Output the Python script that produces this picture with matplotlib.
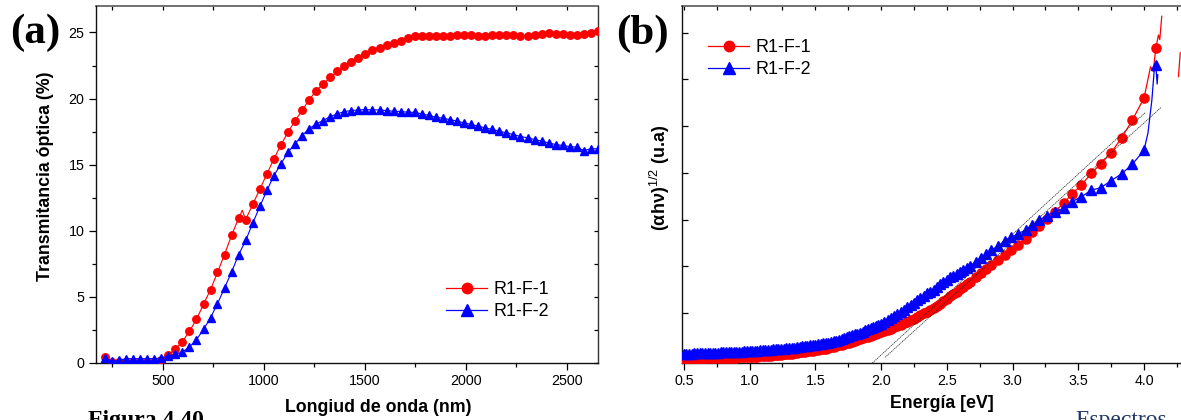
import matplotlib
matplotlib.use("Agg")
import matplotlib.pyplot as plt
from matplotlib.lines import Line2D
from matplotlib.ticker import MultipleLocator, NullFormatter

plt.rcParams['font.family'] = ['Liberation Sans', 'DejaVu Sans']
plt.rcParams['mathtext.fontset'] = 'custom'
plt.rcParams['mathtext.rm'] = 'Liberation Sans'
plt.rcParams['mathtext.bf'] = 'Liberation Sans:bold'

# ---------------- (a) optical transmittance vs wavelength ----------------
wavelength = [212, 247, 282, 317, 352, 387, 421, 456, 491, 526, 561, 596, 631, 666,
              701, 736, 770, 805, 840, 875, 910, 945, 980, 1015, 1050, 1085, 1119,
              1154, 1189, 1224, 1259, 1294, 1329, 1364, 1399, 1434, 1468, 1503, 1538,
              1573, 1608, 1643, 1678, 1713, 1748, 1783, 1817, 1852, 1887, 1922, 1957,
              1992, 2027, 2062, 2097, 2132, 2166, 2201, 2236, 2271, 2306, 2341, 2376,
              2411, 2446, 2481, 2515, 2550, 2585, 2620, 2655]
trans_f1 = [0.42, 0.10, 0.05, 0.05, 0.05, 0.05, 0.05, 0.08, 0.20, 0.60, 1.05, 1.60,
            2.40, 3.30, 4.45, 5.55, 6.85, 8.20, 9.65, 10.95, 10.85, 12.0, 13.15, 14.3,
            15.45, 16.5, 17.45, 18.3, 19.1, 19.9, 20.6, 21.1, 21.6, 22.05, 22.45, 22.8,
            23.1, 23.4, 23.65, 23.85, 24.05, 24.2, 24.38, 24.55, 24.75, 24.74, 24.7,
            24.7, 24.72, 24.74, 24.78, 24.8, 24.78, 24.74, 24.74, 24.8, 24.84, 24.82,
            24.77, 24.72, 24.72, 24.8, 24.87, 24.94, 24.9, 24.88, 24.84, 24.82, 24.86,
            24.95, 25.12]
trans_f2 = [0.38, 0.15, 0.20, 0.33, 0.33, 0.33, 0.33, 0.33, 0.38, 0.50, 0.65, 0.83,
            1.21, 1.76, 2.54, 3.43, 4.48, 5.67, 6.88, 8.19, 9.27, 10.58, 11.84, 13.05,
            14.18, 15.06, 15.94, 16.57, 17.2, 17.71, 18.09, 18.34, 18.64, 18.84, 19.02,
            19.09, 19.14, 19.17, 19.14, 19.14, 19.09, 19.04, 19.02, 18.97, 18.95, 18.84,
            18.72, 18.59, 18.51, 18.41, 18.29, 18.16, 18.04, 17.91, 17.78, 17.66, 17.53,
            17.41, 17.28, 17.13, 17.03, 16.9, 16.78, 16.65, 16.52, 16.45, 16.37, 16.32,
            16.07, 16.2, 16.2]
# short spike in the R1-F-1 trace between two sampled points
spike_wl = [893]
spike_t = [11.55]

# ---------------- (b) (alpha h nu)^1/2 vs photon energy ----------------
energy = [0.50, 0.52, 0.54, 0.56, 0.58, 0.60, 0.62, 0.64, 0.66, 0.68, 0.70, 0.72,
          0.74, 0.76, 0.78, 0.80, 0.82, 0.84, 0.86, 0.88, 0.90, 0.92, 0.94, 0.96,
          0.98, 1.00, 1.02, 1.04, 1.06, 1.08, 1.10, 1.12, 1.14, 1.16, 1.18, 1.20,
          1.22, 1.24, 1.26, 1.28, 1.30, 1.32, 1.34, 1.36, 1.38, 1.40, 1.42, 1.44,
          1.46, 1.48, 1.50, 1.52, 1.54, 1.56, 1.58, 1.60, 1.62, 1.64, 1.66, 1.68,
          1.70, 1.72, 1.74, 1.76, 1.78, 1.80, 1.82, 1.84, 1.86, 1.88, 1.90, 1.92,
          1.94, 1.96, 1.98, 2.00,
          2.025, 2.05, 2.075, 2.10, 2.125, 2.15, 2.175, 2.20, 2.225, 2.25, 2.275,
          2.30, 2.325, 2.35, 2.375, 2.40, 2.425, 2.45, 2.475, 2.50, 2.525, 2.55,
          2.575, 2.60, 2.625, 2.65,
          2.68, 2.72, 2.76, 2.80, 2.84, 2.89, 2.94, 2.99, 3.04, 3.10, 3.15, 3.20,
          3.26, 3.32, 3.39, 3.45, 3.52, 3.60, 3.67, 3.75, 3.83, 3.91, 4.00, 4.09]
ahv_f1 = [0.020, 0.020, 0.020, 0.020, 0.022, 0.023, 0.025, 0.025, 0.027, 0.028,
          0.030, 0.030, 0.032, 0.033, 0.035, 0.037, 0.040, 0.040, 0.042, 0.043,
          0.045, 0.048, 0.050, 0.053, 0.055, 0.058, 0.060, 0.063, 0.065, 0.070,
          0.075, 0.080, 0.085, 0.090, 0.095, 0.100, 0.105, 0.110, 0.115, 0.120,
          0.125, 0.133, 0.140, 0.148, 0.155, 0.163, 0.170, 0.180, 0.190, 0.195,
          0.200, 0.210, 0.220, 0.230, 0.240, 0.252, 0.265, 0.278, 0.292, 0.305,
          0.318, 0.333, 0.350, 0.367, 0.383, 0.400, 0.420, 0.440, 0.460, 0.477,
          0.495, 0.515, 0.535, 0.555, 0.570, 0.590,
          0.615, 0.640, 0.665, 0.690, 0.715, 0.745, 0.780, 0.813, 0.847, 0.880,
          0.913, 0.947, 0.990, 1.025, 1.060, 1.100, 1.150, 1.200, 1.250, 1.305,
          1.360, 1.400, 1.460, 1.510, 1.560, 1.610,
          1.66, 1.76, 1.85, 1.94, 2.03, 2.13, 2.24, 2.35, 2.46, 2.58, 2.73, 2.86,
          3.01, 3.17, 3.35, 3.54, 3.73, 3.99, 4.19, 4.43, 4.75, 5.12, 5.60, 6.67]
ahv_f2 = [0.130, 0.130, 0.130, 0.133, 0.135, 0.137, 0.140, 0.140, 0.140, 0.143,
          0.145, 0.148, 0.150, 0.153, 0.155, 0.158, 0.160, 0.163, 0.165, 0.168,
          0.170, 0.173, 0.175, 0.178, 0.180, 0.185, 0.190, 0.193, 0.195, 0.198,
          0.200, 0.205, 0.210, 0.215, 0.220, 0.225, 0.230, 0.235, 0.240, 0.245,
          0.250, 0.255, 0.260, 0.270, 0.280, 0.285, 0.290, 0.300, 0.310, 0.315,
          0.320, 0.327, 0.340, 0.350, 0.355, 0.367, 0.380, 0.393, 0.410, 0.430,
          0.443, 0.457, 0.480, 0.500, 0.520, 0.540, 0.560, 0.580, 0.600, 0.627,
          0.653, 0.670, 0.697, 0.723, 0.740, 0.773,
          0.810, 0.850, 0.890, 0.930, 0.972, 1.020, 1.070, 1.120, 1.170, 1.220,
          1.270, 1.320, 1.370, 1.420, 1.455, 1.500, 1.550, 1.610, 1.660, 1.710,
          1.760, 1.790, 1.830, 1.880, 1.920, 1.960,
          2.01, 2.10, 2.18, 2.26, 2.35, 2.43, 2.55, 2.62, 2.69, 2.78, 2.88, 2.98,
          3.08, 3.17, 3.24, 3.38, 3.48, 3.63, 3.68, 3.83, 3.98, 4.18, 4.48, 6.31]
# noisy samples near the absorption edge (trace only, no symbols)
edge_e_f1 = [4.05, 4.07, 4.11, 4.12, 4.135]
edge_y_f1 = [6.27, 6.17, 6.95, 6.85, 7.35]
edge_e_f2 = [4.03, 4.06, 4.08, 4.10, 4.105]
edge_y_f2 = [4.85, 5.56, 6.27, 5.90, 6.10]
tail_e_f1 = [4.262, 4.276]
tail_y_f1 = [6.06, 6.57]
# linear extrapolations used for the band gap
fit1_e = [1.934, 4.01]
fit1_y = [-0.07, 5.29]
fit2_e = [2.03, 4.13]
fit2_y = [0.05, 5.40]

series_labels = ['R1-F-1', 'R1-F-2']
RED = '#ff0000'
BLUE = '#0000ff'

W, H = 1181, 420
fig = plt.figure(figsize=(W / 100, H / 100), dpi=100)


def px_box(l, t, r, b):
    return [l / W, 1 - b / H, (r - l) / W, (b - t) / H]


def merged(xs, ys, xe, ye):
    pts = sorted(zip(list(xs) + list(xe), list(ys) + list(ye)))
    return [p[0] for p in pts], [p[1] for p in pts]


ax1 = fig.add_axes(px_box(95.7, 6, 598, 363))
ax2 = fig.add_axes(px_box(681.6, 6, 1200, 363))

# ---- panel (a)
lx, ly = merged(wavelength, trans_f1, spike_wl, spike_t)
ax1.plot(lx, ly, color=RED, lw=0.8, zorder=2)
ax1.plot(wavelength, trans_f1, ls='none', marker='o', ms=5.4, color=RED,
         mec=RED, zorder=3)
ax1.plot(wavelength, trans_f2, color=BLUE, lw=0.8, marker='^', ms=6.0,
         mec=BLUE, zorder=4)
ax1.set_xlim(167, 2655)
ax1.set_ylim(0, 27)

# ---- panel (b)
lx, ly = merged(energy, ahv_f1, edge_e_f1, edge_y_f1)
ax2.plot(lx, ly, color=RED, lw=0.9, zorder=2)
ax2.plot(energy, ahv_f1, ls='none', marker='o', ms=6.6, color=RED, mec=RED, zorder=3)
ax2.plot(tail_e_f1, tail_y_f1, color=RED, lw=0.9, zorder=2)
lx, ly = merged(energy, ahv_f2, edge_e_f2, edge_y_f2)
ax2.plot(lx, ly, color=BLUE, lw=0.9, zorder=4)
ax2.plot(energy, ahv_f2, ls='none', marker='^', ms=6.8, color=BLUE, mec=BLUE, zorder=5)
ax2.plot(fit1_e, fit1_y, color='#222222', lw=0.5, ls=(0, (2, 1)), zorder=6)
ax2.plot(fit2_e, fit2_y, color='#222222', lw=0.5, ls=(0, (2, 1)), zorder=6)
ax2.set_xlim(0.483, 4.426)
ax2.set_ylim(-0.07, 7.57)

# ---- axes styling
TICK_FS = 10.3
for ax in (ax1, ax2):
    for s in ('left', 'bottom'):
        ax.spines[s].set_linewidth(1.0)
        ax.spines[s].set_color('#111111')
    ax.spines['top'].set_visible(False)
    ax.spines['right'].set_visible(False)

# panel (a) ticks
ax1.xaxis.set_major_locator(MultipleLocator(500))
ax1.xaxis.set_minor_locator(MultipleLocator(250))
ax1.yaxis.set_major_locator(MultipleLocator(5))
ax1.yaxis.set_minor_locator(MultipleLocator(2.5))
ax1.tick_params(which='major', direction='out', length=5, width=0.9,
                labelsize=TICK_FS, pad=3, right=False, top=False)
ax1.tick_params(which='minor', direction='out', length=3, width=0.9,
                right=False, top=False)

top1 = ax1.secondary_xaxis('top')
top1.xaxis.set_major_locator(MultipleLocator(500))
top1.xaxis.set_minor_locator(MultipleLocator(250))
top1.tick_params(which='both', direction='in', length=3, width=0.9, labeltop=False)
top1.spines['top'].set_color('#666666')
top1.spines['top'].set_linewidth(1.3)
right1 = ax1.secondary_yaxis('right')
right1.yaxis.set_major_locator(MultipleLocator(5))
right1.yaxis.set_minor_locator(MultipleLocator(2.5))
right1.tick_params(which='both', direction='in', length=3, width=0.9, labelright=False)
right1.spines['right'].set_color('#333333')
right1.spines['right'].set_linewidth(1.0)

# panel (b) ticks
ax2.xaxis.set_major_locator(MultipleLocator(0.5))
ax2.xaxis.set_minor_locator(MultipleLocator(0.25))
ax2.xaxis.set_major_formatter(plt.FuncFormatter(lambda v, p: f'{v:.1f}'))
ax2.yaxis.set_major_locator(MultipleLocator(1))
ax2.yaxis.set_major_formatter(NullFormatter())
ax2.tick_params(axis='x', which='major', direction='out', length=5, width=0.9,
                labelsize=TICK_FS, pad=3, top=False)
ax2.tick_params(axis='x', which='minor', direction='out', length=3, width=0.9, top=False)
ax2.tick_params(axis='y', which='major', direction='in', length=4, width=0.9, right=False)
top2 = ax2.secondary_xaxis('top')
top2.xaxis.set_major_locator(MultipleLocator(0.25))
top2.tick_params(which='both', direction='in', length=3, width=0.9, labeltop=False)
top2.spines['top'].set_color('#666666')
top2.spines['top'].set_linewidth(1.3)

# ---- legends
def handles():
    return [Line2D([], [], color=RED, lw=0.9, marker='o', ms=7.5, mec=RED),
            Line2D([], [], color=BLUE, lw=0.9, marker='^', ms=8, mec=BLUE)]


leg_kw = dict(frameon=False, fontsize=12.9, handlelength=2.3, handletextpad=0.33,
              labelspacing=0.25, borderpad=0, borderaxespad=0, loc='upper left',
              bbox_transform=fig.transFigure)
fig.legend(handles(), series_labels, bbox_to_anchor=(446 / W, 1 - 281.5 / H), **leg_kw)
fig.legend(handles(), series_labels, bbox_to_anchor=(708 / W, 1 - 39.5 / H), **leg_kw)

# ---- labels
LBL_FS = 12.8
fig.text(46 / W, 1 - 176 / H, 'Transmitancia óptica (%)', rotation=90, ha='center',
         va='center', fontsize=LBL_FS, fontweight='bold')
fig.text(378 / W, 1 - 407 / H, 'Longiud de onda (nm)', ha='center', va='center',
         fontsize=LBL_FS, fontweight='bold')
fig.text(942 / W, 1 - 404 / H, 'Energía [eV]', ha='center', va='center',
         fontsize=LBL_FS, fontweight='bold')
fig.text(660 / W, 1 - 178 / H, r'(αhν)$^{1/2}$ (u.a)', rotation=90, ha='center',
         va='center', fontsize=13, fontweight='bold')

SERIF = ['Liberation Serif', 'DejaVu Serif']
fig.text(10 / W, 1 - 33 / H, '(a)', family=SERIF, fontweight='bold', fontsize=31,
         ha='left', va='center')
fig.text(616 / W, 1 - 34 / H, '(b)', family=SERIF, fontweight='bold', fontsize=31,
         ha='left', va='center')
# page caption lines continuing below the figure
fig.text(88 / W, -6 / H, 'Figura 4.40', family=SERIF, fontweight='bold', fontsize=17,
         ha='left', va='baseline')
fig.text(1075 / W, -6 / H, 'Espectros', family=SERIF, fontsize=17, color='#1f3864',
         ha='left', va='baseline')

fig.savefig('out.png', dpi=100)
